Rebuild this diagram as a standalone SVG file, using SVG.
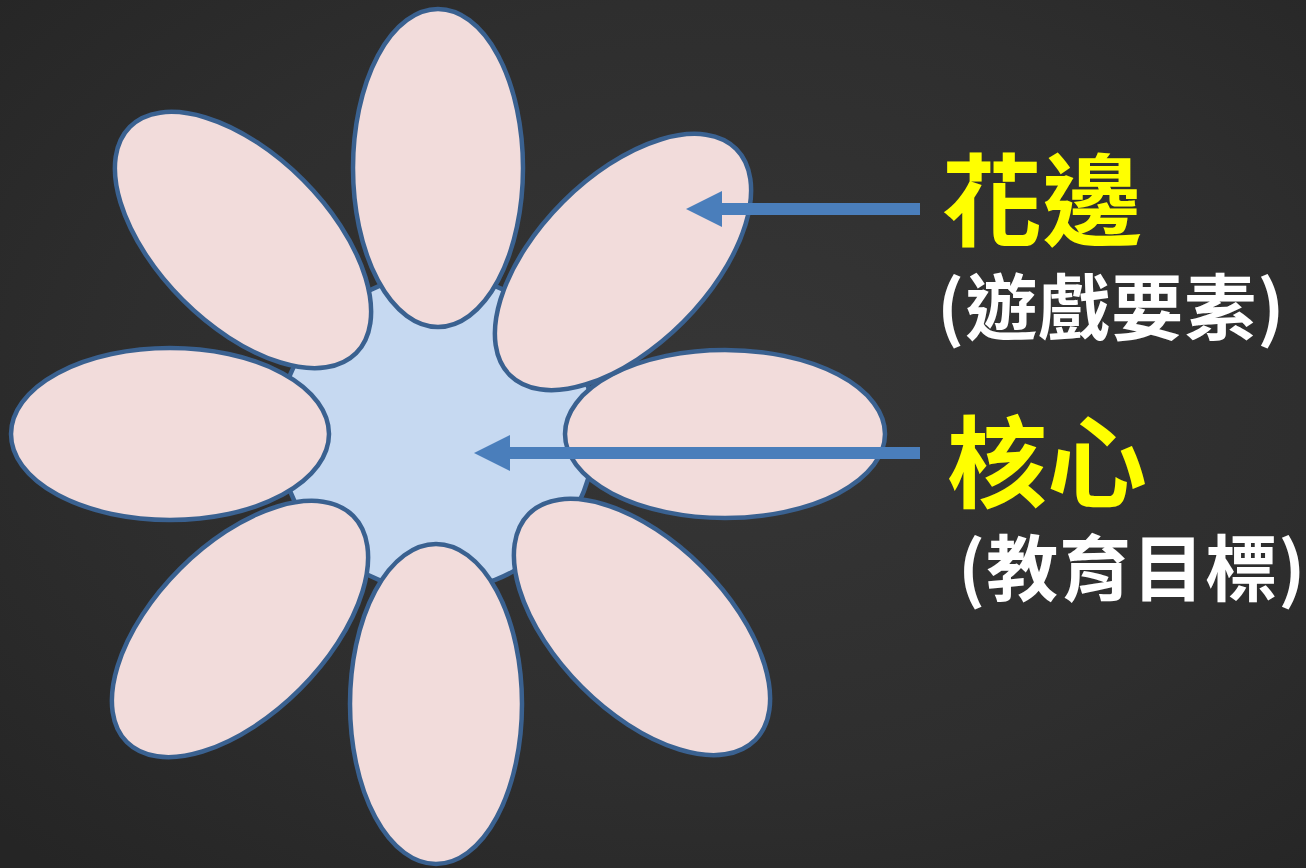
<svg xmlns="http://www.w3.org/2000/svg" width="1306" height="868" viewBox="0 0 1306 868">
  <defs>
    <radialGradient id="bg" cx="0.55" cy="0.45" r="0.75">
      <stop offset="0" stop-color="#363636"/>
      <stop offset="0.6" stop-color="#2e2e2e"/>
      <stop offset="1" stop-color="#252525"/>
    </radialGradient>
    <style>
      .petal { fill: #f2dcdb; stroke: #3a6190; stroke-width: 4.5; }
      .core { fill: #c6d9f1; stroke: #3a6190; stroke-width: 4.5; }
      .arrow { fill: #4a7ebb; }
      .title { font-family: "Noto Sans CJK TC", "Noto Sans CJK SC", sans-serif; font-weight: bold; fill: #ffff00; font-size: 100px; }
      .sub { font-family: "Noto Sans CJK TC", "Noto Sans CJK SC", sans-serif; font-weight: bold; fill: #ffffff; font-size: 72px; letter-spacing: 1px; }
    </style>
  </defs>
  <rect x="0" y="0" width="1306" height="868" fill="url(#bg)"/>

  <g id="core">
    <circle class="core" cx="437" cy="433" r="158"/>
  </g>
  <g id="petals">
    <ellipse id="petal-top" class="petal" cx="438" cy="168" rx="85" ry="159"/>
    <ellipse id="petal-bottom" class="petal" cx="436" cy="704" rx="86" ry="160"/>
    <ellipse id="petal-left" class="petal" cx="170" cy="434" rx="159" ry="86"/>
    <ellipse id="petal-right" class="petal" cx="725" cy="434" rx="160" ry="84"/>
    <ellipse id="petal-topleft" class="petal" cx="0" cy="0" rx="160" ry="85" transform="translate(243 240) rotate(45)"/>
    <ellipse id="petal-topright" class="petal" cx="0" cy="0" rx="160" ry="85" transform="translate(623 262) rotate(-45)"/>
    <ellipse id="petal-bottomleft" class="petal" cx="0" cy="0" rx="160" ry="85" transform="translate(240 629) rotate(-45)"/>
    <ellipse id="petal-bottomright" class="petal" cx="0" cy="0" rx="160" ry="85" transform="translate(642 627) rotate(45)"/>
  </g>

  <g id="connectors">
    <polygon class="arrow" points="920,203 722,203 722,191 686,209 722,227 722,215 920,215"/>
    <polygon class="arrow" points="920,447 510,447 510,435 474,453 510,471 510,459 920,459"/>
  </g>

  <g id="label-edge">
    <text class="title" x="942" y="238">花邊</text>
    <text class="sub" x="937" y="334">(遊戲要素)</text>
  </g>
  <g id="label-core">
    <text class="title" x="947" y="500">核心</text>
    <text class="sub" x="958" y="595">(教育目標)</text>
  </g>
</svg>
